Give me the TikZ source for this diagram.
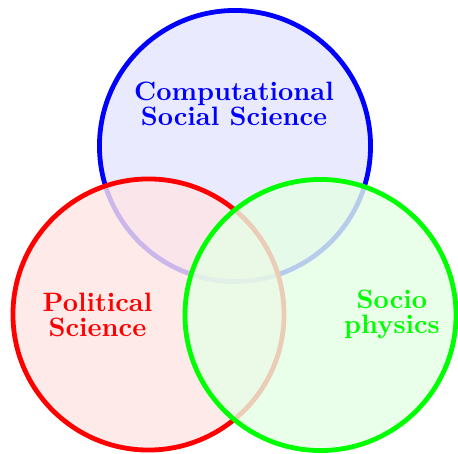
\documentclass[tikz,border=0pt]{standalone}
\usepackage{amsmath}
\usepackage{amssymb}
\usepackage{tikz}

\begin{document}
\begin{tikzpicture}[x=0.3759pt, y=-0.3759pt, line width=1.8pt,
		set/.style = {draw, circle, minimum size=101.9pt, inner sep=0pt, fill opacity=0.8},
		lbl/.style = {align=center, font=\bfseries, inner sep=0pt}]
				\useasboundingbox (0,0) rectangle (458,454);
				\node[set, blue, fill=blue!10] (css) at (235,146) {};
				\node[set, red, fill=red!10] (pol) at (148.5,314.5) {};
				\node[set, green, fill=green!10] (phy) at (320.5,315) {};
				\node[lbl, blue] (csstext) at (234,104) {Computational\\[-2.6pt]Social Science};
				\node[lbl, red] (poltext) at (97.5,315) {Political\\[-2.6pt]Science};
				\node[lbl, green] (phytext) at (392,314) {Socio\\[-2.6pt]physics};
			\end{tikzpicture}
\end{document}
